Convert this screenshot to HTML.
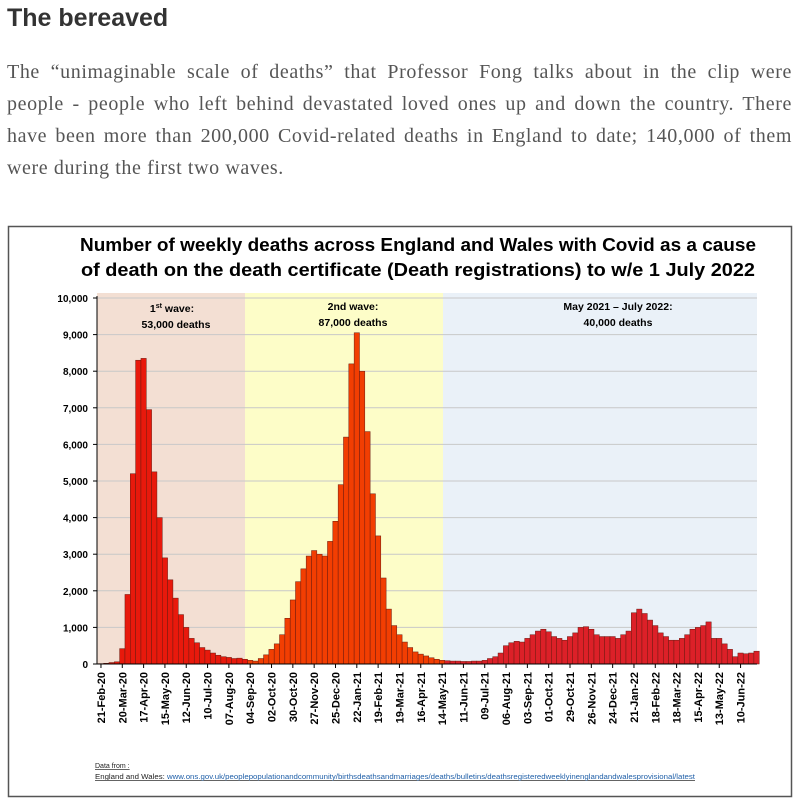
<!DOCTYPE html>
<html><head><meta charset="utf-8"><style>
body{margin:0;background:#fff;width:800px;height:802px;overflow:hidden;font-family:"Liberation Sans",sans-serif}
h1{position:absolute;left:7px;top:4px;margin:0;font-size:25px;font-weight:bold;color:#333}
.p{position:absolute;left:7px;top:56px;width:785px;font-family:"Liberation Serif",serif;font-size:20px;letter-spacing:0.6px;line-height:32px;color:#555}
.p div{text-align:justify;text-align-last:justify;white-space:nowrap}
.p div.l{text-align-last:left}
svg{position:absolute;left:0;top:0}
</style></head><body>
<h1>The bereaved</h1>
<div class="p">
<div>The “unimaginable scale of deaths” that Professor Fong talks about in the clip were</div>
<div>people - people who left behind devastated loved ones up and down the country. There</div>
<div>have been more than 200,000 Covid-related deaths in England to date; 140,000 of them</div>
<div class="l">were during the first two waves.</div>
</div>
<svg id="c" width="800" height="802" xmlns="http://www.w3.org/2000/svg"></svg>
<script>
const v=[10,20,40,60,420,1900,5200,8300,8350,6950,5250,4000,2900,2300,1800,1350,1000,700,580,450,380,300,240,200,180,150,160,130,
100,80,150,250,400,550,800,1250,1750,2250,2600,2950,3100,3000,2950,3350,3900,4900,6200,8200,9050,8000,6350,4650,3500,2350,1500,1050,800,600,450,330,270,220,170,130,100,
90,80,80,70,70,80,80,100,150,200,300,500,580,620,600,700,800,900,950,880,750,700,650,750,850,1000,1020,950,800,750,750,750,700,800,900,1400,1500,1380,1200,1050,850,750,650,650,700,800,950,1000,1050,1150,700,700,550,400,200,300,280,300,350];
const X0=98.3,W=5.33,Y0=664,S=0.0366;
let s='';
s+='<rect x="8.5" y="226.5" width="783" height="570" fill="#fff" stroke="#555" stroke-width="1.5"/>';
s+='<text x="418" y="251" text-anchor="middle" font-size="18.5" font-weight="bold" fill="#000" textLength="676" lengthAdjust="spacingAndGlyphs">Number of weekly deaths across England and Wales with Covid as a cause</text>';
s+='<text x="418" y="276" text-anchor="middle" font-size="18.5" font-weight="bold" fill="#000" textLength="674" lengthAdjust="spacingAndGlyphs">of death on the death certificate (Death registrations) to w/e 1 July 2022</text>';
s+='<rect x="97" y="293" width="148" height="371" fill="#f3dfd3"/>';
s+='<rect x="245" y="293" width="198" height="371" fill="#fdfdc8"/>';
s+='<rect x="443" y="293" width="314" height="371" fill="#eaf1f8"/>';
for(let k=0;k<=10;k++){const y=Y0-k*36.6;s+=`<line x1="97" x2="757" y1="${y}" y2="${y}" stroke="#c8c8c8" stroke-width="1"/>`;
s+=`<text x="88" y="${y+4}" text-anchor="end" font-size="10" font-weight="bold">${(k*1000).toLocaleString('en-US')}</text>`;
s+=`<line x1="93" x2="97" y1="${y}" y2="${y}" stroke="#000"/>`;}
v.forEach((d,i)=>{const c=i<28?'#e8190c':(i<65?'#f23e02':'#dc2028');const h=d*S;
s+=`<rect x="${X0+i*W}" y="${Y0-h}" width="${W}" height="${h}" fill="${c}" stroke="#6a1a10" stroke-width="0.5"/>`;});
s+='<line x1="97" x2="757" y1="664" y2="664" stroke="#000"/><line x1="97" x2="97" y1="296" y2="664" stroke="#000"/>';
const L=['21-Feb-20','20-Mar-20','17-Apr-20','15-May-20','12-Jun-20','10-Jul-20','07-Aug-20','04-Sep-20','02-Oct-20','30-Oct-20','27-Nov-20','25-Dec-20','22-Jan-21','19-Feb-21','19-Mar-21','16-Apr-21','14-May-21','11-Jun-21','09-Jul-21','06-Aug-21','03-Sep-21','01-Oct-21','29-Oct-21','26-Nov-21','24-Dec-21','21-Jan-22','18-Feb-22','18-Mar-22','15-Apr-22','13-May-22','10-Jun-22'];
L.forEach((t,j)=>{const x=X0+j*4*W+W/2;s+=`<line x1="${x}" x2="${x}" y1="664" y2="668" stroke="#000"/>`;
s+=`<text transform="translate(${x+4},${672}) rotate(-90)" text-anchor="end" font-size="11" font-weight="bold">${t}</text>`;});
s+='<text x="172" y="312" text-anchor="middle" font-size="10.5" font-weight="bold">1<tspan font-size="7" dy="-4">st</tspan><tspan dy="4"> wave:</tspan></text>';
s+='<text x="176" y="328" text-anchor="middle" font-size="10.5" font-weight="bold">53,000 deaths</text>';
s+='<text x="353" y="310" text-anchor="middle" font-size="10.5" font-weight="bold">2nd wave:</text>';
s+='<text x="353" y="326" text-anchor="middle" font-size="10.5" font-weight="bold">87,000 deaths</text>';
s+='<text x="618" y="310" text-anchor="middle" font-size="10.5" font-weight="bold">May 2021 – July 2022:</text>';
s+='<text x="618" y="326" text-anchor="middle" font-size="10.5" font-weight="bold">40,000 deaths</text>';
s+='<text x="95" y="768" font-size="7" text-decoration="underline" fill="#222">Data from :</text>';
s+='<text x="95" y="779" font-size="7" fill="#222" text-decoration="underline" textLength="600" lengthAdjust="spacingAndGlyphs">England and Wales: <tspan fill="#1f5fa8">www.ons.gov.uk/peoplepopulationandcommunity/birthsdeathsandmarriages/deaths/bulletins/deathsregisteredweeklyinenglandandwalesprovisional/latest</tspan></text>';
document.getElementById('c').innerHTML=s;
</script>
</body></html>
